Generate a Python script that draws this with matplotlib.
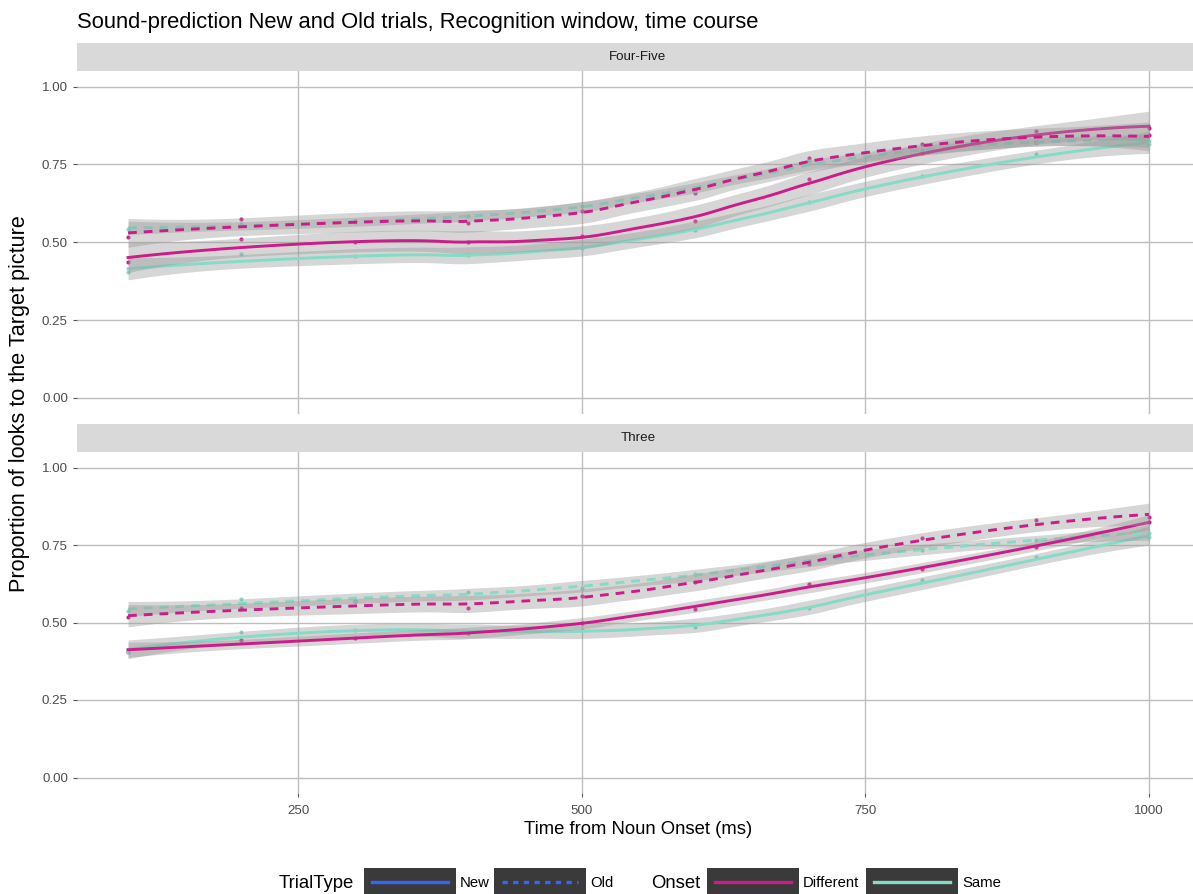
import numpy as np
import matplotlib
matplotlib.use("Agg")
import matplotlib.pyplot as plt
from matplotlib.patches import Rectangle
from matplotlib.lines import Line2D

plt.rcParams['font.family'] = ['Liberation Sans', 'DejaVu Sans']

# ---- data (proportion of looks to target) ----
time_ms = [100, 200, 300, 400, 500, 600, 700, 800, 900, 1000]
panels = ["Four-Five", "Three"]
trial_types = ["New", "Old"]
onsets = ["Different", "Same"]

ff_different_new = [0.438, 0.511, 0.502, 0.500, 0.520, 0.567, 0.702, 0.788, 0.857, 0.866]
ff_different_old = [0.518, 0.575, 0.567, 0.563, 0.600, 0.657, 0.771, 0.817, 0.822, 0.846]
ff_same_new = [0.404, 0.462, 0.455, 0.460, 0.480, 0.540, 0.628, 0.713, 0.785, 0.815]
ff_same_old = [0.543, 0.560, 0.565, 0.585, 0.615, 0.665, 0.760, 0.795, 0.820, 0.826]

three_different_new = [0.406, 0.444, 0.449, 0.465, 0.500, 0.545, 0.624, 0.671, 0.744, 0.825]
three_different_old = [0.517, 0.546, 0.570, 0.548, 0.585, 0.631, 0.688, 0.774, 0.830, 0.841]
three_same_new = [0.405, 0.470, 0.476, 0.470, 0.475, 0.487, 0.546, 0.637, 0.712, 0.775]
three_same_old = [0.538, 0.575, 0.570, 0.600, 0.610, 0.655, 0.700, 0.735, 0.765, 0.790]

series = {
    "Four-Five": {("Different", "New"): ff_different_new, ("Different", "Old"): ff_different_old,
                  ("Same", "New"): ff_same_new, ("Same", "Old"): ff_same_old},
    "Three": {("Different", "New"): three_different_new, ("Different", "Old"): three_different_old,
              ("Same", "New"): three_same_new, ("Same", "Old"): three_same_old},
}

onset_colors = {"Different": "#CD1B8A", "Same": "#84DBC6"}
old_dash = (0, (3.0, 2.4))
dash_style = {"New": "-", "Old": old_dash}


def loess_matrix(x, xs, span=0.75):
    # local quadratic fit with tricube weights (like R's loess defaults)
    x = np.asarray(x, float)
    n = len(x)
    q = int(np.floor(n * span))
    rows = []
    for x0 in xs:
        d = np.abs(x - x0)
        h = np.sort(d)[q - 1]
        u = np.clip(d / h, 0, 1)
        w = (1 - u ** 3) ** 3
        dx = (x - x0) / 1000.0
        X = np.column_stack([np.ones(n), dx, dx ** 2])
        XtW = X.T * w
        A = np.linalg.solve(XtW @ X, XtW)
        rows.append(A[0])
    return np.array(rows)


def t_quantile(df, z=1.959964):
    g1 = (z ** 3 + z) / 4
    g2 = (5 * z ** 5 + 16 * z ** 3 + 3 * z) / 96
    g3 = (3 * z ** 7 + 19 * z ** 5 + 17 * z ** 3 - 15 * z) / 384
    return z + g1 / df + g2 / df ** 2 + g3 / df ** 3


def smooth(x, y, xs):
    y = np.asarray(y, float)
    n = len(x)
    L = loess_matrix(x, x)
    M = np.eye(n) - L
    MtM = M.T @ M
    d1 = np.trace(MtM)
    d2 = np.trace(MtM @ MtM)
    s = np.sqrt(np.sum((M @ y) ** 2) / d1)
    Ls = loess_matrix(x, xs)
    fit = Ls @ y
    se = s * np.sqrt((Ls ** 2).sum(axis=1))
    band = t_quantile(d1 ** 2 / d2) * se
    return fit, fit - band, fit + band


W, H = 1193, 894
fig = plt.figure(figsize=(W / 100, H / 100), dpi=100)


def fx(px):
    return px / W


def fy(py):
    return 1 - py / H


def add_panel(left, top, right, bottom):
    return fig.add_axes([fx(left), fy(bottom), fx(right - left), (bottom - top) / H])


panel_boxes = [(77, 71, 1200, 413.5), (77, 452, 1200, 793)]
strip_tops = [43, 424]
xs = np.linspace(min(time_ms), max(time_ms), 120)

for i, name in enumerate(panels):
    left, top, right, bottom = panel_boxes[i]
    ax = add_panel(left, top, right, bottom)

    # facet strip
    fig.add_artist(Rectangle((fx(left), fy(top)), fx(right - left), (top - strip_tops[i]) / H,
                             transform=fig.transFigure, facecolor="#D9D9D9", edgecolor="none"))
    fig.text(fx(638), fy((top + strip_tops[i]) / 2), name, ha="center", va="center",
             fontsize=9.6, color="#1A1A1A")

    # raw points first
    for onset in onsets:
        for tt in trial_types:
            ax.plot(time_ms, series[name][(onset, tt)], "o", ms=3.0, color=onset_colors[onset],
                    mec="none", zorder=2)

    # smooth + ribbon per group
    z = 3
    for onset in ["Same", "Different"]:
        for tt in trial_types:
            fit, lo, hi = smooth(time_ms, series[name][(onset, tt)], xs)
            ax.fill_between(xs, lo, hi, color="#999999", alpha=0.4, lw=0, zorder=z)
            ax.plot(xs, fit, color=onset_colors[onset], lw=2.1, linestyle=dash_style[tt], zorder=z + 0.5)
            z += 1

    ax.set_xlim(55, 1045)
    ax.set_ylim(-0.05, 1.05)
    ax.set_yticks([0, 0.25, 0.5, 0.75, 1.0])
    ax.set_yticklabels(["0.00", "0.25", "0.50", "0.75", "1.00"])
    ax.set_xticks([250, 500, 750, 1000])
    ax.grid(True, color="#BEBEBE", lw=1.0)
    ax.set_axisbelow(True)
    for sp in ax.spines.values():
        sp.set_visible(False)
    ax.tick_params(axis="y", colors="#555555", labelcolor="#4D4D4D", labelsize=9.6, length=3, width=0.8, pad=3.5)
    ax.tick_params(axis="x", colors="#555555", labelcolor="#4D4D4D", labelsize=9.6, length=3, width=0.8, pad=6)
    if i == 0:
        ax.tick_params(axis="x", bottom=False, labelbottom=False)

# titles
fig.text(fx(77), fy(28), "Sound-prediction New and Old trials, Recognition window, time course",
         fontsize=15.8, ha="left", va="baseline")
fig.text(fx(638), fy(830), "Time from Noun Onset (ms)", fontsize=13.3, ha="center", va="center")
fig.text(fx(20), fy(404), "Proportion of looks to the Target picture", fontsize=15.6, rotation=90,
         ha="center", va="center")

# legend at the bottom (keys run off the lower edge like the reference)
legend_items = [
    ("title", 279, "TrialType"),
    ("key", 364, "#3366FF", "-", "New"),
    ("key", 494, "#3366FF", (0, (1.6, 1.6)), "Old"),
    ("title", 651, "Onset"),
    ("key", 707, onset_colors["Different"], "-", "Different"),
    ("key", 866, onset_colors["Same"], "-", "Same"),
]
key_w, key_top = 92, 868
for item in legend_items:
    if item[0] == "title":
        fig.text(fx(item[1]), fy(883), item[2], fontsize=13.3, ha="left", va="center")
    else:
        _, x0, col, ls, label = item
        fig.add_artist(Rectangle((fx(x0), fy(H + 10)), fx(key_w), (H + 10 - key_top) / H,
                                 transform=fig.transFigure, facecolor="#3A3A3A", edgecolor="none"))
        fig.add_artist(Line2D([fx(x0 + 8), fx(x0 + key_w - 8)], [fy(882), fy(882)],
                              transform=fig.transFigure, color=col, lw=2.4, linestyle=ls))
        fig.text(fx(x0 + key_w + 4), fy(883), label, fontsize=10.7, ha="left", va="center")

fig.savefig("out.png", dpi=100)
